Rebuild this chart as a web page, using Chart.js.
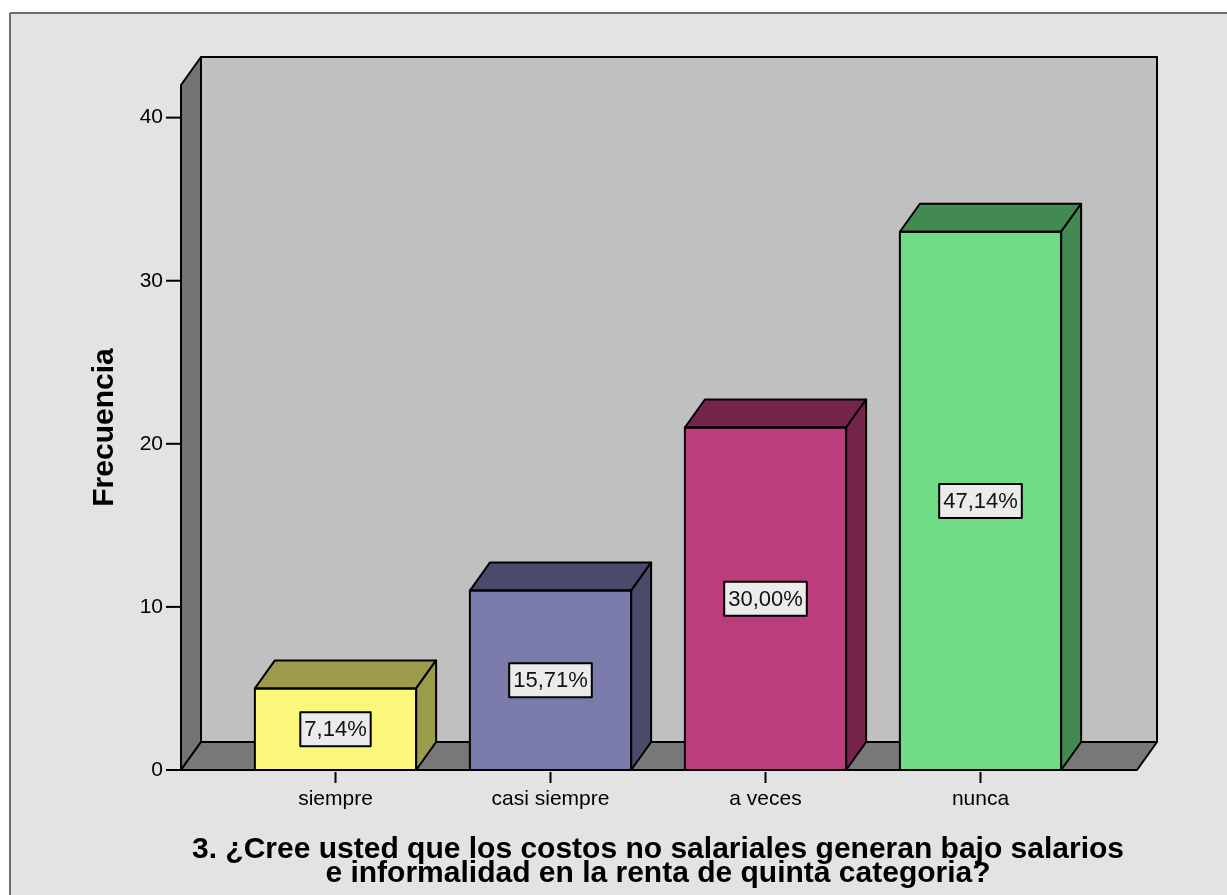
<!DOCTYPE html>
<html>
<head>
<meta charset="utf-8">
<script src="https://cdn.jsdelivr.net/npm/chart.js@4.4.0/dist/chart.umd.min.js"></script>
<style>
  body { margin: 0; background: #fff; }
  canvas { display: block; }
</style>
</head>
<body>
<canvas id="bars" width="1227" height="895"></canvas>
<script>
var categories = ['siempre', 'casi siempre', 'a veces', 'nunca'];
var frequencies = [5, 11, 21, 33];
var percentLabels = ['7,14%', '15,71%', '30,00%', '47,14%'];
var yTicks = [0, 10, 20, 30, 40];
var xTitle = ['3. ¿Cree usted que los costos no salariales generan bajo salarios',
              'e informalidad en la renta de quinta categoria?'];

var frontColors = ['#fbf77a', '#7b7bab', '#bc3d7b', '#70dd86'];
var shadeColors = ['#9c9a4b', '#4a4a6a', '#75244c', '#438a52'];

// depth of the fake 3d effect
var DX = 20, DY = -28;
var EXT_LEFT = 47, EXT_RIGHT = 49;
var FONT = '"Liberation Sans", Arial, sans-serif';

function poly(c, pts, fill) {
    c.beginPath();
    c.moveTo(pts[0][0], pts[0][1]);
    for (var i = 1; i < pts.length; i++) c.lineTo(pts[i][0], pts[i][1]);
    c.closePath();
    c.fillStyle = fill;
    c.fill();
    c.lineWidth = 2;
    c.strokeStyle = '#000';
    c.lineJoin = 'round';
    c.stroke();
}

function seg(c, x1, y1, x2, y2) {
    c.beginPath();
    c.moveTo(x1, y1);
    c.lineTo(x2, y2);
    c.stroke();
}

var frame3d = {
    id: 'frame3d',
    beforeDraw: function (chart) {
        var c = chart.ctx;
        c.save();
        c.fillStyle = '#ffffff';
        c.fillRect(0, 0, chart.width, chart.height);
        c.fillStyle = '#e3e3e3';
        c.fillRect(9, 12, chart.width, chart.height);
        c.strokeStyle = '#6f6f6f';
        c.lineWidth = 2;
        seg(c, 10, chart.height, 10, 13);
        seg(c, 10, 13, chart.width, 13);
        c.restore();
    },
    beforeDatasetsDraw: function (chart) {
        var a = chart.chartArea, c = chart.ctx;
        var L = a.left - EXT_LEFT, R = a.right + EXT_RIGHT, T = a.top, B = a.bottom;
        c.save();
        poly(c, [[L + DX, T + DY], [R + DX, T + DY], [R + DX, B + DY], [L + DX, B + DY]], '#c0c0c0');
        poly(c, [[L, T], [L + DX, T + DY], [L + DX, B + DY], [L, B]], '#737373');
        poly(c, [[L, B], [L + DX, B + DY], [R + DX, B + DY], [R, B]], '#787878');

        c.strokeStyle = '#000';
        c.lineWidth = 2;
        var ys = chart.scales.y;
        yTicks.forEach(function (v) {
            var p = ys.getPixelForValue(v);
            seg(c, L - 15, p, L, p);
        });
        chart.getDatasetMeta(0).data.forEach(function (b) {
            seg(c, b.x, B + 2, b.x, B + 13);
        });
        c.restore();
    },
    afterDatasetsDraw: function (chart) {
        var c = chart.ctx, ys = chart.scales.y;
        c.save();
        chart.getDatasetMeta(0).data.forEach(function (b, i) {
            var l = b.x - b.width / 2, r = b.x + b.width / 2;
            poly(c, [[l, b.y], [l + DX, b.y + DY], [r + DX, b.y + DY], [r, b.y]], shadeColors[i]);
            poly(c, [[r, b.y], [r + DX, b.y + DY], [r + DX, b.base + DY], [r, b.base]], shadeColors[i]);
            c.strokeStyle = '#000';
            c.lineWidth = 2;
            c.strokeRect(l, b.y, b.width, b.base - b.y);
        });

        c.font = '22px ' + FONT;
        c.textAlign = 'center';
        c.textBaseline = 'middle';
        chart.getDatasetMeta(0).data.forEach(function (b, i) {
            var mid = ys.getPixelForValue(frequencies[i] / 2);
            var w = c.measureText(percentLabels[i]).width + 8;
            var h = 34;
            c.fillStyle = '#ebebeb';
            c.fillRect(b.x - w / 2, mid - h / 2, w, h);
            c.strokeStyle = '#000';
            c.lineWidth = 2;
            c.strokeRect(b.x - w / 2, mid - h / 2, w, h);
            c.fillStyle = '#111';
            c.fillText(percentLabels[i], b.x, mid + 1);
        });
        c.restore();
    },
    afterDraw: function (chart) {
        // axis title drawn here so it is not squeezed to the plot width
        var c = chart.ctx, xs = chart.scales.x;
        var cx = (xs.left + xs.right) / 2;
        c.save();
        c.font = 'bold 30px ' + FONT;
        c.fillStyle = '#000';
        c.textAlign = 'center';
        c.textBaseline = 'alphabetic';
        xTitle.forEach(function (t, i) {
            c.fillText(t, cx, xs.bottom - 37 + i * 24);
        });
        c.restore();
    }
};

var ctx = document.getElementById('bars').getContext('2d');
var chart = new Chart(ctx, {
    type: 'bar',
    data: {
        labels: categories,
        datasets: [{
            label: 'Frecuencia',
            data: frequencies,
            backgroundColor: frontColors,
            borderColor: '#000',
            borderWidth: 0,
            barPercentage: 0.75,
            categoryPercentage: 1
        }]
    },
    options: {
        responsive: false,
        animation: false,
        layout: {
            padding: { left: 0, top: 85, right: 139, bottom: 0 }
        },
        plugins: {
            legend: { display: false },
            tooltip: { enabled: false }
        },
        scales: {
            x: {
                grid: { display: false, drawTicks: false },
                border: { display: false },
                ticks: {
                    padding: 17,
                    color: '#000',
                    font: { family: FONT, size: 21 }
                },
                afterFit: function (scale) { scale.height = 125; }
            },
            y: {
                min: 0,
                max: 42,
                grid: { display: false, drawTicks: false },
                border: { display: false },
                afterBuildTicks: function (scale) {
                    scale.ticks = yTicks.map(function (v) { return { value: v }; });
                },
                ticks: {
                    padding: 65,
                    color: '#000',
                    font: { family: FONT, size: 21 }
                },
                title: {
                    display: true,
                    text: 'Frecuencia',
                    color: '#000',
                    font: { family: FONT, size: 30, weight: 'bold' },
                    padding: { top: 87, bottom: 0 }
                },
                afterFit: function (scale) { scale.width = 228; }
            }
        }
    },
    plugins: [frame3d]
});
</script>
</body>
</html>
